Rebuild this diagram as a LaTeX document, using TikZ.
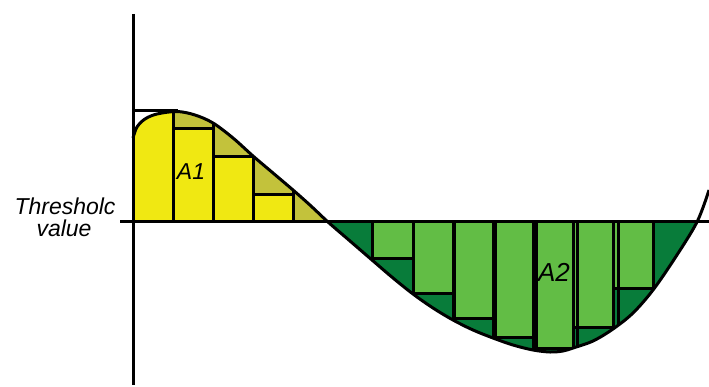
\documentclass[tikz,border=0pt]{standalone}
\usepackage{fontspec}
\setsansfont{Liberation Sans}
\usepackage{tikz}
\definecolor{barYellow}{HTML}{F0E812}
\definecolor{restOlive}{HTML}{C3C23B}
\definecolor{barGreen}{HTML}{62BD45}
\definecolor{restGreen}{HTML}{087C3A}
% the curve, as it is drawn in pixel coordinates
\tikzset{wave/.style={insert path={-- plot[smooth, tension=0.55] coordinates {(133,138) (137,127) (145,119) (157,114)
    (177,111.5) (195,115) (213,123) (233,138) (253,156) (273,173) (293,190) (311,206)
    (328,222) (350,241) (372,260) (393,278) (413,294) (433,308) (453,320) (473,330)
    (493,338) (513,345) (533,350) (550,352) (563,351) (573,348) (593,341) (613,329)
    (633,313) (653,290) (675,258) (697,222) (709,190)}}}}

\begin{document}
\begin{tikzpicture}[x=1pt, y=-1pt, line width=3pt,
    barbox/.style={draw=black, line width=3pt},
    label/.style={font=\sffamily\itshape\fontsize{23}{26}\selectfont, inner sep=0pt, anchor=base}]
    \useasboundingbox (0,0) rectangle (709,387);
    % area A1 above the threshold
    \begin{scope}
        \clip (133,0) rectangle (328,222);
        \clip (133,222) [wave] -- (709,222) -- cycle;
        \fill[restOlive] (0,0) rectangle (709,387);
        \fill[barYellow] (133,0) rectangle (173,222);
        \draw[barbox, fill=barYellow] (173,222) rectangle (213,129);
        \draw[barbox, fill=barYellow] (213,222) rectangle (253,157);
        \draw[barbox, fill=barYellow] (253,222) rectangle (293,195);
        \foreach \x in {173,213,253,293}
            \draw (\x,0) -- (\x,222);
    \end{scope}
    % area A2 below the threshold
    \begin{scope}
        \clip (328,222) rectangle (697,387);
        \clip (133,222) [wave] -- (709,222) -- cycle;
        \fill[restGreen] (0,0) rectangle (709,387);
        \foreach \xa/\xb/\yb in {372/413/259, 413/453/293, 453/493/318, 493/533/337,
                                533/573/348, 573/613/327, 613/653/288}
            \draw[barbox, fill=barGreen] (\xa,222) rectangle (\xb,\yb);
        \foreach \x in {372,413,...,653}
            \draw (\x,222) -- (\x,387);
    \end{scope}
    \draw (133,138) [wave];
    \draw (133,111) -- (178,111);
    \draw (120,222) -- (709,222);
    \draw (133,14) -- (133,385);
    \node[label] (thr) at (65,215) {Thresholc};
    \node[label] (val) at (64,237) {value};
    \node[label] (a1) at (191,180) {A1};
    \node[label, font=\sffamily\itshape\fontsize{26}{30}\selectfont] (a2) at (554,281) {A2};
\end{tikzpicture}
\end{document}
